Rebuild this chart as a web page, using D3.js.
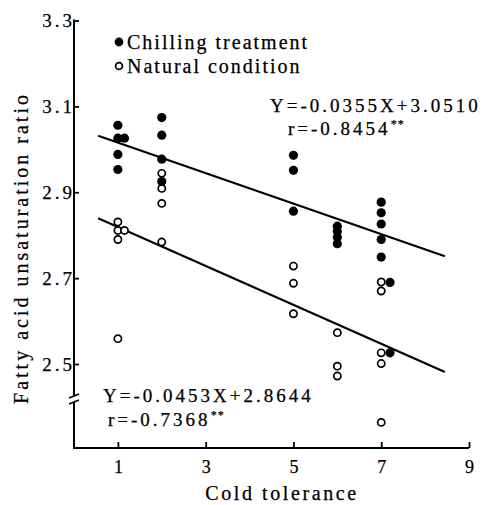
<!DOCTYPE html>
<html><head><meta charset="utf-8">
<script src="https://cdn.jsdelivr.net/npm/d3@7"></script>
<style>
html,body{margin:0;padding:0;background:#fff;}
svg text{font-family:"Liberation Serif","Times New Roman",serif;fill:#000;stroke:#000;stroke-width:0.25px;}
</style></head>
<body><svg id="c" width="484" height="505"></svg>
<script>
// ---- data ----
const xTicks = [1, 3, 5, 7, 9];
const yTicks = [2.5, 2.7, 2.9, 3.1, 3.3];
const seriesNames = ["Chilling treatment", "Natural condition"];
const chillX = [1, 1, 1.15, 1, 1, 2, 2, 2, 2, 5, 5, 5, 6, 6, 6, 6, 7, 7, 7, 7, 7, 7.2, 7.2];
const chillY = [3.056, 3.026, 3.026, 2.988, 2.953, 3.074, 3.033, 2.977, 2.925, 2.986, 2.951, 2.856, 2.821, 2.809, 2.795, 2.780, 2.877, 2.852, 2.826, 2.790, 2.749, 2.690, 2.526];
const natX = [1, 1, 1.15, 1, 1, 2, 2, 2, 2, 5, 5, 5, 6, 6, 6, 7, 7, 7, 7, 7];
const natY = [2.831, 2.811, 2.811, 2.790, 2.559, 2.944, 2.909, 2.874, 2.784, 2.728, 2.688, 2.617, 2.573, 2.495, 2.472, 2.691, 2.670, 2.526, 2.501, 2.364];
const regSlope = [-0.0355, -0.0453];
const regIntercept = [3.0510, 2.8644];
const regRange = [0.55, 8.45];
const eqText = ["Y=-0.0355X+3.0510", "Y=-0.0453X+2.8644"];
const rText = ["r=-0.8454", "r=-0.7368"];

// ---- chart ----
const svg = d3.select("#c");
const x = d3.scaleLinear().domain([0, 9]).range([74, 469]);
const y = d3.scaleLinear().domain([2.5, 3.3]).range([364, 20.5]);
const axisY = 448;

// y axis
const ya = svg.append("g").attr("transform", "translate(74,0)")
  .call(d3.axisLeft(y).tickValues(yTicks).tickFormat(d3.format(".1f")).tickSizeInner(-5).tickSizeOuter(0).tickPadding(0));
ya.select(".domain").remove();
ya.selectAll(".tick line").attr("stroke", "#000").attr("stroke-width", 1.8);
ya.selectAll(".tick text").attr("font-size", 19).attr("letter-spacing", 3).attr("dx", 1)
  .attr("font-family", "Liberation Serif").attr("fill", "#000");
// axis line with break
const brk = 399;
svg.append("path").attr("d", `M74,${y(3.3) - 1}V${brk - 3}M74,${brk + 3}V${axisY}H469`)
  .attr("fill", "none").attr("stroke", "#000").attr("stroke-width", 2);
svg.append("path").attr("d", `M69,${brk - 1}L79,${brk - 5}M69,${brk + 5}L79,${brk + 1}`)
  .attr("stroke", "#000").attr("stroke-width", 1.6);

// x axis
const xa = svg.append("g").attr("transform", `translate(0,${axisY})`)
  .call(d3.axisBottom(x).tickValues(xTicks).tickFormat(d3.format("d")).tickSizeInner(-6).tickSizeOuter(0).tickPadding(12));
xa.select(".domain").remove();
xa.selectAll(".tick line").attr("stroke", "#000").attr("stroke-width", 1.8);
xa.selectAll(".tick text").attr("font-size", 18).attr("font-family", "Liberation Serif").attr("fill", "#000");

// axis titles
svg.append("text").attr("x", 282).attr("y", 500).attr("text-anchor", "middle")
  .attr("font-size", 20).attr("letter-spacing", 2.6).text("Cold tolerance");
svg.append("text").attr("transform", "translate(28,248) rotate(-90)").attr("text-anchor", "middle")
  .attr("font-size", 20).attr("letter-spacing", 3).text("Fatty acid unsaturation ratio");

// regression lines
regSlope.forEach((s, i) => {
  svg.append("line")
    .attr("x1", x(regRange[0])).attr("y1", y(s * regRange[0] + regIntercept[i]))
    .attr("x2", x(regRange[1])).attr("y2", y(s * regRange[1] + regIntercept[i]))
    .attr("stroke", "#000").attr("stroke-width", 2.2);
});

// points
const chill = chillX.map((v, i) => [v, chillY[i]]);
const nat = natX.map((v, i) => [v, natY[i]]);
svg.append("g").selectAll("circle").data(nat).join("circle")
  .attr("cx", d => x(d[0])).attr("cy", d => y(d[1])).attr("r", 3.6)
  .attr("fill", "#fff").attr("stroke", "#000").attr("stroke-width", 1.7);
svg.append("g").selectAll("circle").data(chill).join("circle")
  .attr("cx", d => x(d[0])).attr("cy", d => y(d[1])).attr("r", 4.6)
  .attr("fill", "#000");

// legend
svg.append("circle").attr("cx", 119).attr("cy", 42).attr("r", 4.4).attr("fill", "#000");
svg.append("circle").attr("cx", 119).attr("cy", 66).attr("r", 3.4).attr("fill", "#fff").attr("stroke", "#000").attr("stroke-width", 1.7);
svg.append("text").attr("x", 127).attr("y", 49).attr("font-size", 20).attr("letter-spacing", 2).text(seriesNames[0]);
svg.append("text").attr("x", 127).attr("y", 73).attr("font-size", 20).attr("letter-spacing", 2).text(seriesNames[1]);

// equations
function eq(xp, yp, t) {
  svg.append("text").attr("x", xp).attr("y", yp).attr("font-size", 19).attr("letter-spacing", 3).text(t);
}
function rr(xp, yp, t) {
  const tx = svg.append("text").attr("x", xp).attr("y", yp).attr("font-size", 19).attr("letter-spacing", 3);
  tx.append("tspan").text(t);
  tx.append("tspan").attr("font-size", 12).attr("dy", -7).attr("letter-spacing", 1).text("**");
}
eq(270, 112, eqText[0]);
rr(288, 135, rText[0]);
eq(103, 402, eqText[1]);
rr(108, 426, rText[1]);
</script></body></html>
